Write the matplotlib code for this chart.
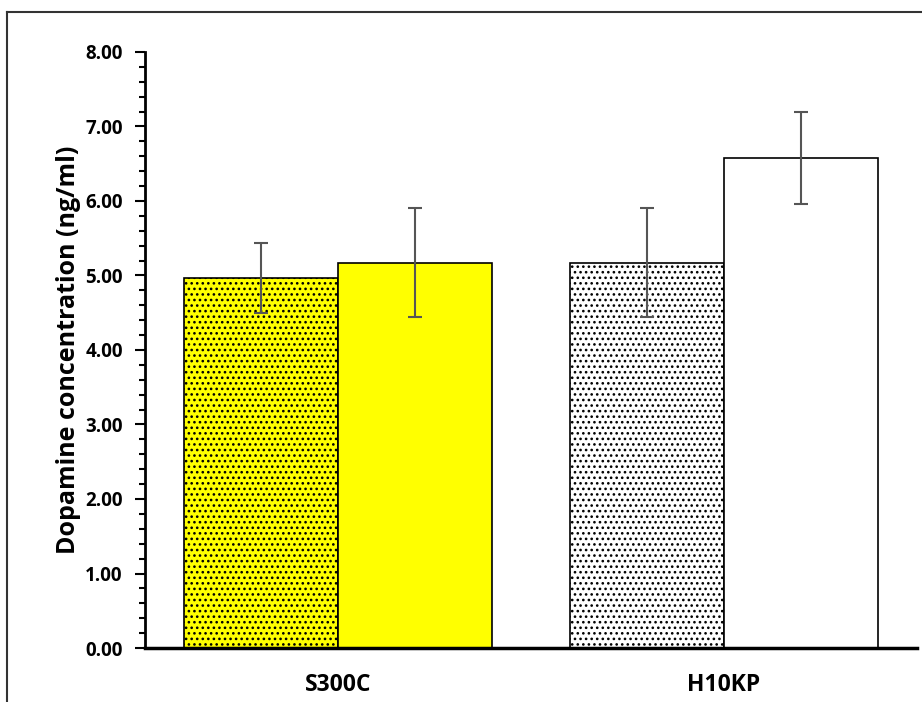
import matplotlib
matplotlib.use("Agg")
import matplotlib.pyplot as plt
from matplotlib.lines import Line2D
import numpy as np

plt.rcParams['font.family'] = ['Open Sans', 'DejaVu Sans']
plt.rcParams['hatch.linewidth'] = 1.1

categories = ["S300C", "H10KP"]
series_a = [4.97, 5.17]      # dotted bars
series_b = [5.17, 6.58]      # solid bars
err_a = [0.47, 0.73]
err_b = [0.73, 0.62]
face_a = ["#FFFF00", "#FFFFFF"]
face_b = ["#FFFF00", "#FFFFFF"]
yticks = [0, 1, 2, 3, 4, 5, 6, 7, 8]

fig = plt.figure(figsize=(9.22, 7.02), dpi=100)
ax = fig.add_axes([145/922, 54/702, 772/922, 596/702])

x = np.arange(len(categories))
w = 0.4
ax.bar(x - w/2, series_a, width=w, color=face_a, edgecolor="black", linewidth=1.2,
       hatch="...", zorder=2)
ax.bar(x + w/2, series_b, width=w, color=face_b, edgecolor="black", linewidth=1.2,
       zorder=2)
ax.errorbar(x - w/2, series_a, yerr=err_a, fmt="none", ecolor="#555555",
            elinewidth=1.5, capsize=5, capthick=1.5, zorder=3)
ax.errorbar(x + w/2, series_b, yerr=err_b, fmt="none", ecolor="#555555",
            elinewidth=1.5, capsize=5, capthick=1.5, zorder=3)

ax.set_xlim(-0.5, 1.5)
ax.set_ylim(0, 8)
ax.set_yticks(yticks)
ax.set_yticklabels([f"{v:.2f}" for v in yticks], fontsize=13.5, fontweight="bold")
ax.set_yticks(np.arange(0, 8.01, 0.2), minor=True)
ax.tick_params(axis="y", which="major", direction="out", length=7, width=1.5, pad=9)
ax.tick_params(axis="y", which="minor", direction="out", length=4, width=1.5)
ax.set_xticks(x)
ax.set_xticklabels(categories, fontsize=16.5, fontweight="bold")
ax.tick_params(axis="x", length=0, pad=18)

for s in ["top", "right"]:
    ax.spines[s].set_visible(False)
ax.spines["left"].set_linewidth(2)
ax.spines["bottom"].set_linewidth(2.5)

ax.set_ylabel("Dopamine concentration (ng/ml)", fontsize=18, fontweight="bold", labelpad=3)

fig.add_artist(Line2D([7/922, 1.0], [1 - 12/702, 1 - 12/702], transform=fig.transFigure,
                      color="#333333", linewidth=1.5))
fig.add_artist(Line2D([7/922, 7/922], [0, 1 - 12/702], transform=fig.transFigure,
                      color="#333333", linewidth=1.5))

fig.savefig("out.png", dpi=100)
